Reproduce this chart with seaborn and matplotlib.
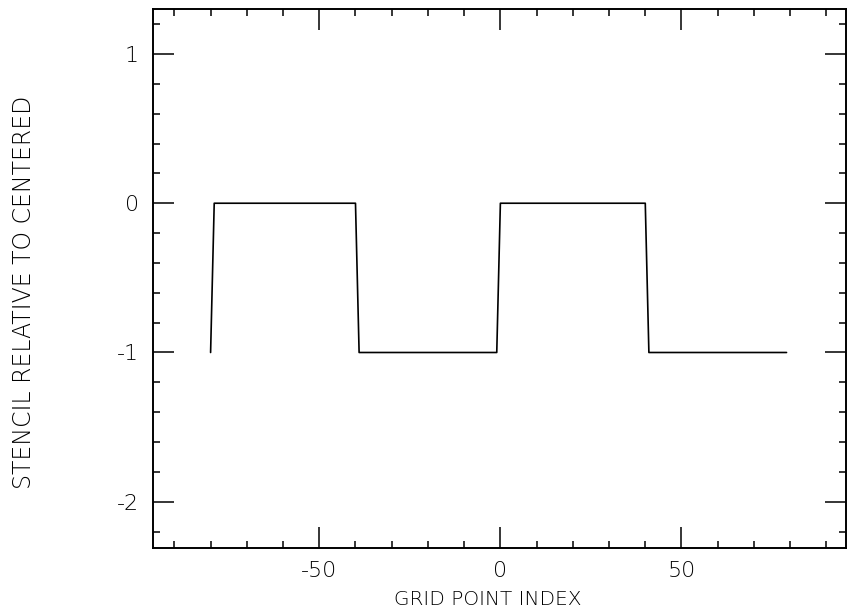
import matplotlib
matplotlib.use("Agg")
import matplotlib.pyplot as plt
from matplotlib.ticker import MultipleLocator, FixedLocator
import seaborn as sns
import pandas as pd

# polyline vertices
grid_index = [-80, -79, -40, -39, -1, 0, 40, 41, 79]
stencil = [-1, 0, 0, -1, -1, 0, 0, -1, -1]

x_major = [-50, 0, 50]
x_major_labels = ["-50", "0", "50"]
y_major = [1, 0, -1, -2]
y_major_labels = ["1", "0", "-1", "-2"]

df = pd.DataFrame({"index": grid_index, "stencil": stencil})

sns.set_theme(style="ticks")
plt.rcParams["font.family"] = ["DejaVu Sans"]
plt.rcParams["axes.unicode_minus"] = False

fig = plt.figure(figsize=(8.48, 6.13), dpi=100)
ax = fig.add_axes([0.180, 0.106, 0.818, 0.879])

sns.lineplot(data=df, x="index", y="stencil", ax=ax, sort=False,
             estimator=None, color="black", linewidth=1.2)

ax.set_xlim(-96, 95.5)
ax.set_ylim(-2.31, 1.30)

ax.xaxis.set_major_locator(FixedLocator(x_major))
ax.set_xticklabels(x_major_labels)
ax.xaxis.set_minor_locator(MultipleLocator(10))
ax.yaxis.set_major_locator(FixedLocator(y_major))
ax.set_yticklabels(y_major_labels)
ax.yaxis.set_minor_locator(MultipleLocator(0.2))

ax.tick_params(which="both", direction="in", top=True, right=True,
               color="black", width=1.1)
ax.tick_params(which="major", length=15)
ax.tick_params(which="minor", length=5)
ax.tick_params(axis="x", which="major", pad=9, labelsize=16)
ax.tick_params(axis="y", which="major", pad=10, labelsize=16)
for lab in ax.get_xticklabels() + ax.get_yticklabels():
    lab.set_fontweight("light")
    lab.set_color("black")

for s in ax.spines.values():
    s.set_visible(True)
    s.set_linewidth(1.4)
    s.set_color("black")

ax.set_xlabel("GRID POINT INDEX", fontsize=14.5, fontweight="light", color="black")
ax.set_ylabel("STENCIL RELATIVE TO CENTERED", fontsize=17, fontweight="light",
              color="black")
ax.xaxis.set_label_coords(0.483, -0.077)
ax.yaxis.set_label_coords(-0.168, 0.475)

fig.savefig("out.png", dpi=100, facecolor="white")
